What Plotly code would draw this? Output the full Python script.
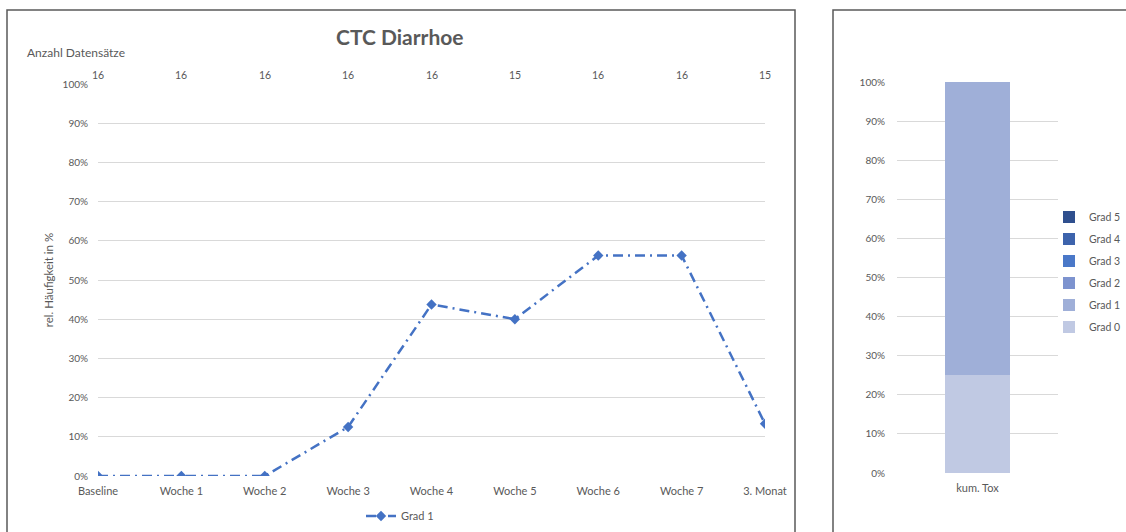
import plotly.graph_objects as go

W, H = 1126, 532

categories = ["Baseline", "Woche 1", "Woche 2", "Woche 3", "Woche 4", "Woche 5", "Woche 6", "Woche 7", "3. Monat"]
grad1_values = [0.0, 0.0, 0.0, 0.125, 0.4375, 0.40, 0.5625, 0.5625, 0.1333]
counts = ["16", "16", "16", "16", "16", "15", "16", "16", "15"]

bar_category = ["kum. Tox"]
bar_grades = ["Grad 0", "Grad 1", "Grad 2", "Grad 3", "Grad 4", "Grad 5"]
bar_values = [0.25, 0.75, 0.0, 0.0, 0.0, 0.0]
bar_colors = ["#c0c9e3", "#9fafd8", "#7d93cf", "#4a78c8", "#3d63ac", "#2f4f8e"]

FONT = "Lato, 'Open Sans', sans-serif"
GRAY = "#595959"

def px(x):
    return x / W

def py(y):
    return 1 - y / H

fig = go.Figure()

fig.add_trace(go.Scatter(
    x=categories, y=grad1_values, mode="lines+markers", name="Grad 1",
    line=dict(color="#4472c4", width=2.5, dash="10px,5px,2px,5px"),
    marker=dict(symbol="diamond", size=8, color="#4472c4"),
    xaxis="x", yaxis="y", legend="legend",
))

n = len(bar_grades)
for i, (g, v, c) in enumerate(zip(bar_grades, bar_values, bar_colors)):
    fig.add_trace(go.Bar(
        x=bar_category, y=[v], name=g, marker=dict(color=c, line=dict(width=0)),
        xaxis="x2", yaxis="y2", legend="legend2", legendgroup=g,
        legendrank=1000 + (n - i), width=0.4,
    ))

grid = "#d9d9d9"
ytickfont = dict(family=FONT, size=10, color=GRAY)
xtickfont = dict(family=FONT, size=11, color=GRAY)

fig.update_layout(
    width=W, height=H, autosize=False,
    margin=dict(l=0, r=0, t=0, b=0),
    paper_bgcolor="white", plot_bgcolor="white",
    barmode="stack",
    font=dict(family=FONT, color=GRAY),
    xaxis=dict(domain=[px(98), px(765)], type="category", range=[0, 8],
               showgrid=False, zeroline=False, showline=False, ticks="",
               tickfont=xtickfont, ticklabelstandoff=7, anchor="y", automargin=False),
    yaxis=dict(domain=[py(476), py(84)], range=[0, 1], tickformat=".0%",
               dtick=0.1, showgrid=True, gridcolor=grid, gridwidth=1,
               zeroline=False, showline=False, ticks="", tickfont=ytickfont,
               ticklabelstandoff=9, anchor="x", automargin=False,
               title=dict(text="rel. Häufigkeit in %", font=dict(family=FONT, size=11.5, color=GRAY), standoff=6)),
    xaxis2=dict(domain=[px(897), px(1058)], type="category", range=[-0.5, 0.5],
                showgrid=False, zeroline=False, showline=False, ticks="",
                tickfont=xtickfont, ticklabelstandoff=7, anchor="y2", automargin=False),
    yaxis2=dict(domain=[py(473), py(82)], range=[0, 1], tickformat=".0%",
                dtick=0.1, showgrid=True, gridcolor=grid, gridwidth=1,
                zeroline=False, showline=False, ticks="", tickfont=ytickfont,
                ticklabelstandoff=11, anchor="x2", automargin=False),
    legend=dict(x=px(400), y=py(516), xanchor="center", yanchor="middle",
                orientation="h", font=dict(family=FONT, size=11, color=GRAY),
                bgcolor="rgba(0,0,0,0)"),
    legend2=dict(x=1.0, y=py(272), xanchor="right", yanchor="middle",
                 traceorder="grouped", tracegroupgap=3,
                 font=dict(family=FONT, size=10.5, color=GRAY),
                 itemwidth=30, bgcolor="rgba(0,0,0,0)"),
    showlegend=True,
)

for cat, c in zip(categories, counts):
    fig.add_annotation(x=cat, y=py(75), xref="x", yref="paper", text=c,
                       showarrow=False, font=dict(family=FONT, size=10.5, color=GRAY),
                       xanchor="center", yanchor="middle")

fig.add_annotation(x=px(400), y=py(36), xref="paper", yref="paper",
                   text="<b>CTC Diarrhoe</b>", showarrow=False,
                   font=dict(family=FONT, size=21, color=GRAY),
                   xanchor="center", yanchor="middle")
fig.add_annotation(x=px(25), y=py(52), xref="paper", yref="paper",
                   text="Anzahl Datensätze", showarrow=False,
                   font=dict(family=FONT, size=12, color=GRAY),
                   xanchor="left", yanchor="middle")

border = dict(color="#595959", width=1.5)
fig.add_shape(type="rect", xref="paper", yref="paper",
              x0=px(7), x1=px(795), y0=py(560), y1=py(10), line=border)
fig.add_shape(type="rect", xref="paper", yref="paper",
              x0=px(833), x1=px(1160), y0=py(560), y1=py(10), line=border)

fig.write_html("out.html", config={"displayModeBar": False},
               post_script="document.body.style.margin='0';document.body.style.overflow='hidden';")
